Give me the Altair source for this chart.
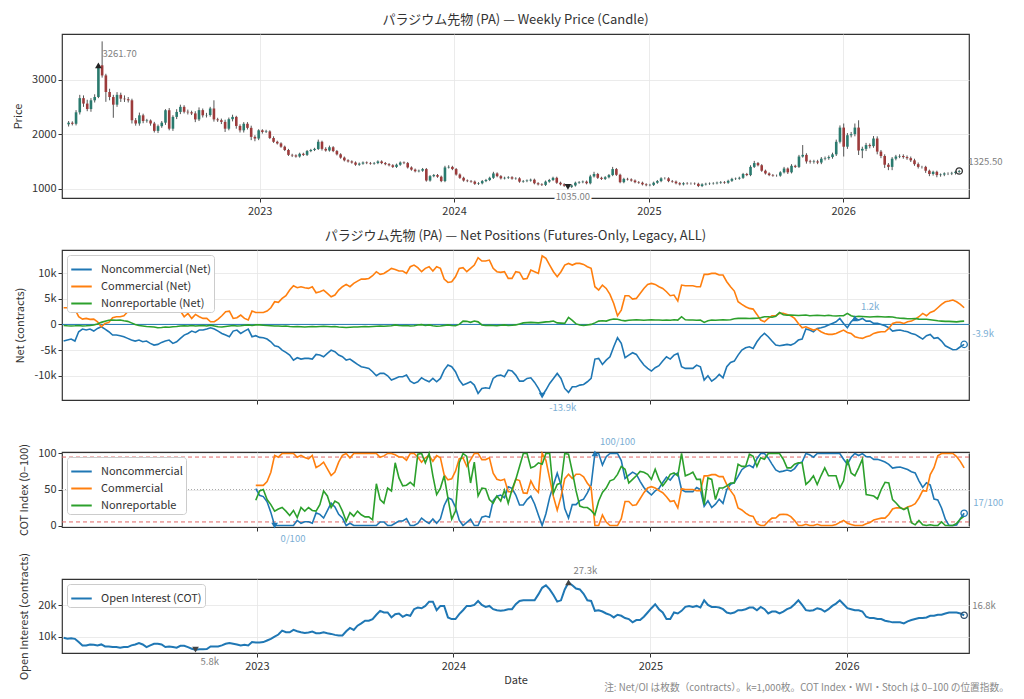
import altair as alt
import pandas as pd
import numpy as np

FONT = "Noto Sans CJK JP"
C0, C1, C2 = "#1f77b4", "#ff7f0e", "#2ca02c"
UP, DOWN = "#2a7a6e", "#9c3b3b"
LBL_BLUE = "#7aaed4"
LBL_GRAY = "#808080"

start_date = "2022-01-07"
first_open = 2180

close = [
    2210, 2190, 2400, 2660, 2560, 2460, 2620, 2680, 3261.7, 3076,
    2772, 2680, 2540, 2720, 2650, 2640, 2620, 2255, 2195, 2345,
    2240, 2250, 2195, 2060, 2146, 2210, 2438, 2100, 2316, 2407,
    2500, 2410, 2400, 2380, 2270, 2440, 2345, 2350, 2470, 2270,
    2255, 2225, 2100, 2274, 2316, 2150, 2070, 2190, 2115, 1950,
    1920, 2070, 2040, 2050, 1930, 1860, 1830, 1770, 1710, 1620,
    1610, 1590, 1640, 1620, 1690, 1710, 1730, 1860, 1730, 1700,
    1760, 1690, 1630, 1570, 1520, 1500, 1480, 1440, 1460, 1480,
    1470, 1460, 1470, 1500, 1470, 1450, 1430, 1400, 1440, 1480,
    1470, 1390, 1350, 1320, 1330, 1360, 1150, 1230, 1250, 1220,
    1140, 1390, 1400, 1360, 1260, 1200, 1150, 1140, 1130, 1090,
    1100, 1140, 1160, 1200, 1280, 1230, 1190, 1200, 1210, 1185,
    1190, 1130, 1140, 1150, 1165, 1100, 1080, 1070, 1130, 1160,
    1200, 1110, 1080, 1055, 1035, 1060, 1110, 1120, 1130, 1100,
    1225, 1270, 1200, 1180, 1210, 1250, 1360, 1255, 1120, 1180,
    1170, 1150, 1120, 1110, 1080, 1065, 1070, 1110, 1140, 1190,
    1190, 1140, 1130, 1100, 1080, 1100, 1095, 1095, 1090, 1050,
    1080, 1090, 1095, 1100, 1110, 1120, 1110, 1145, 1180, 1185,
    1200, 1270, 1250, 1400, 1470, 1430, 1330, 1280, 1250, 1240,
    1240, 1300, 1370, 1300, 1420, 1400, 1590, 1620, 1500, 1490,
    1500, 1480, 1550, 1560, 1580, 1630, 1860, 2120, 1770, 1980,
    2000, 2120, 1700, 1730, 1800, 1780, 1920, 1680, 1600, 1440,
    1400, 1550, 1590, 1600, 1580, 1560, 1520, 1450, 1400, 1400,
    1330, 1270, 1310, 1250, 1260, 1280, 1280, 1290, 1310, 1325.5,
]

hi_ext = [
    30, 25, 40, 60, 50, 70, 40, 50, 20, 438,
    30, 60, 40, 50, 40, 60, 40, 30, 40, 50,
    30, 30, 20, 30, 30, 30, 20, 40, 30, 50,
    40, 30, 40, 30, 40, 50, 30, 40, 30, 150,
    30, 30, 40, 30, 40, 20, 30, 30, 30, 40,
    30, 20, 20, 30, 20, 30, 20, 20, 20, 20,
    20, 20, 20, 20, 20, 20, 20, 40, 20, 30,
    30, 20, 20, 20, 20, 20, 20, 20, 20, 20,
    20, 20, 20, 20, 20, 20, 20, 20, 20, 20,
    20, 20, 20, 20, 20, 20, 20, 20, 20, 20,
    20, 30, 30, 20, 20, 20, 20, 20, 20, 20,
    20, 20, 20, 20, 30, 20, 20, 20, 20, 20,
    20, 20, 20, 20, 20, 20, 20, 20, 20, 20,
    20, 20, 20, 20, 20, 20, 20, 20, 20, 20,
    30, 40, 20, 20, 20, 20, 40, 20, 20, 20,
    20, 20, 20, 20, 20, 20, 20, 20, 20, 20,
    20, 20, 20, 20, 20, 20, 20, 20, 20, 20,
    20, 20, 20, 20, 20, 20, 20, 20, 20, 20,
    20, 20, 20, 30, 40, 20, 20, 20, 20, 20,
    20, 20, 30, 20, 30, 20, 30, 180, 30, 30,
    30, 30, 30, 30, 30, 30, 40, 40, 75, 40,
    40, 75, 134, 40, 40, 30, 45, 40, 30, 30,
    30, 30, 30, 30, 30, 30, 30, 30, 30, 20,
    20, 20, 20, 20, 20, 20, 20, 20, 20, 20,
]

lo_ext = [
    40, 30, 30, 40, 60, 40, 50, 40, 20, 40,
    180, 60, 240, 40, 60, 50, 40, 60, 40, 40,
    40, 30, 40, 30, 40, 30, 40, 30, 40, 40,
    40, 30, 40, 30, 50, 30, 40, 40, 30, 40,
    30, 40, 60, 30, 40, 50, 40, 40, 30, 60,
    50, 30, 30, 20, 20, 20, 20, 20, 20, 20,
    30, 20, 20, 20, 20, 20, 20, 20, 30, 20,
    20, 20, 20, 20, 20, 20, 20, 20, 20, 20,
    20, 20, 20, 20, 20, 20, 20, 20, 20, 20,
    20, 20, 20, 20, 20, 20, 20, 20, 20, 20,
    20, 20, 20, 20, 20, 20, 20, 20, 20, 20,
    20, 20, 20, 20, 20, 20, 20, 20, 20, 20,
    20, 20, 20, 20, 20, 20, 20, 20, 20, 20,
    20, 20, 20, 20, 20, 20, 20, 20, 20, 20,
    20, 20, 20, 20, 20, 20, 20, 20, 20, 20,
    20, 20, 20, 20, 20, 20, 20, 20, 20, 20,
    20, 20, 20, 20, 20, 20, 20, 20, 20, 20,
    20, 20, 20, 20, 20, 20, 20, 20, 20, 20,
    20, 20, 20, 20, 20, 20, 20, 20, 20, 20,
    20, 20, 20, 30, 20, 20, 20, 20, 40, 30,
    30, 30, 30, 30, 30, 30, 30, 30, 180, 40,
    40, 40, 82, 140, 40, 40, 30, 50, 40, 60,
    60, 60, 30, 30, 30, 30, 30, 30, 30, 30,
    40, 40, 30, 40, 30, 30, 30, 30, 30, 20,
]

nc_net = [
    -3255, -3060, -2860, -3250, -1430, -910, -1100, -900, -1300, -780,
    -455, -910, -1430, -2080, -2080, -2210, -2400, -2730, -3060, -3250,
    -3060, -3385, -3250, -3710, -4040, -3900, -3515, -3250, -3060, -3710,
    -3385, -2730, -2080, -1760, -1300, -1560, -1100, -1100, -910, -650,
    -910, -1300, -1760, -2080, -2400, -1300, -1100, -1760, -1300, -910,
    -2400, -2200, -2540, -2600, -2860, -3385, -4170, -4360, -5010, -5470,
    -5990, -6970, -6510, -6770, -6640, -6640, -6770, -5860, -5990, -6310,
    -5660, -5010, -5340, -5990, -6310, -6970, -6770, -7290, -7810, -8270,
    -8400, -8590, -9240, -10030, -9570, -9570, -10030, -10870, -10550, -10220,
    -10220, -9900, -11070, -11520, -11200, -10420, -10870, -11200, -10550, -11200,
    -10550, -8920, -7940, -8270, -9240, -10870, -11850, -11520, -11200, -11850,
    -13480, -12500, -12370, -12500, -10550, -10030, -9900, -10220, -8920, -9100,
    -9900, -11070, -11070, -10550, -10420, -11330, -12500, -13900, -12820, -11520,
    -10550, -9570, -10550, -12500, -13280, -12170, -12170, -11850, -11720, -11200,
    -10550, -6770, -6640, -7810, -6970, -6310, -4360, -2600, -3710, -6510,
    -5990, -5530, -5860, -6970, -7940, -8590, -9110, -8460, -8070, -7160,
    -6310, -6770, -5990, -5660, -8270, -8590, -8590, -8590, -7940, -8270,
    -10870, -10030, -11070, -10550, -9760, -10420, -8270, -7420, -7160, -5990,
    -5010, -4560, -4360, -4690, -3385, -2400, -1760, -2400, -3250, -4040,
    -4170, -4040, -3900, -4040, -3710, -3060, -2860, -910, -1100, -1430,
    -780, -650, -455, -130, 195, 520, 1170, 195, -650, 520,
    1200, 850, 1170, 650, 650, 195, 195, 0, -260, -650,
    -1300, -1170, -1100, -1300, -1430, -1760, -1950, -2400, -2860, -2210,
    -1950, -2730, -2600, -3250, -4170, -4560, -4950, -4900, -4360, -3900,
]

c_net = [
    3255, 3255, 3125, 2990, 1500, 1040, 1170, 980, 1040, 520,
    -455, 195, 390, 1300, 1500, 1500, 1690, 2470, 2990, 3650,
    3775, 3905, 3650, 4100, 4560, 4430, 3650, 3775, 3775, 4430,
    3450, 2600, 1500, 2150, 1170, 1950, 1500, 1170, 1170, 520,
    520, 1040, 1690, 2470, 2600, 1170, 1300, 1820, 1170, 850,
    2600, 2340, 2340, 2340, 2600, 3255, 4430, 4300, 5080, 5600,
    6700, 7550, 7160, 7360, 7160, 7030, 7360, 6180, 6380, 6700,
    6050, 5400, 5730, 6700, 7360, 7810, 7360, 8010, 8460, 8850,
    8850, 8980, 9500, 10290, 9770, 9960, 10420, 10940, 10740, 10420,
    10420, 9960, 11260, 11590, 11070, 10290, 10940, 11260, 10420, 11260,
    10940, 8850, 8200, 8330, 9310, 10940, 11070, 10290, 10940, 11590,
    13020, 12370, 12370, 12560, 10940, 10290, 10160, 10290, 8980, 8980,
    10290, 10160, 8850, 8980, 10610, 10290, 9960, 13410, 12890, 11590,
    10290, 9310, 10290, 11590, 11910, 11590, 11910, 11910, 11720, 11260,
    10940, 7360, 6700, 7680, 7030, 5860, 4100, 1690, 2800, 5600,
    5600, 4950, 5080, 6050, 7030, 7810, 8010, 7810, 7360, 7030,
    6380, 5600, 5730, 4560, 7680, 7550, 7550, 7550, 7360, 7360,
    9770, 9770, 9960, 9960, 9640, 9640, 8330, 7360, 6510, 4430,
    3905, 3450, 3125, 2990, 1950, 850, 520, 1170, 1690, 1690,
    2150, 2150, 1950, 1690, 1170, 195, -650, -455, -780, -1100,
    -910, -1430, -1760, -1950, -1950, -1760, -1430, -1100, -1560, -1760,
    -2400, -2600, -2730, -2400, -2210, -1760, -1560, -1430, -1430, -780,
    195, 390, 390, 195, 520, 650, 1040, 1500, 2150, 1690,
    2340, 2600, 3255, 3905, 4430, 4560, 4750, 4430, 3905, 3255,
]

nr_net = [
    -200, -260, -300, -260, -200, -300, -260, -200, -100, 100,
    400, 600, 800, 850, 800, 850, 700, 600, 300, 0,
    -200, -300, -400, -450, -500, -650, -600, -500, -550, -450,
    -400, -300, -250, -300, -200, -300, -250, -200, -300, -150,
    -300, -450, -500, -400, -300, -200, -300, -250, -150, -100,
    -200, -100, -100, -150, -200, -250, -300, -300, -350, -300,
    -400, -450, -400, -450, -500, -450, -400, -450, -400, -350,
    -400, -450, -400, -500, -550, -600, -550, -500, -500, -450,
    -400, -450, -400, -350, -300, -350, -300, -250, -100, -200,
    -250, -200, -300, -250, -100, -50, -200, -100, -250, -350,
    -300, -200, -100, -200, -250, 0, 650, 600, 400, 650,
    500, -100, -200, -150, -200, -250, -150, -100, -200, -150,
    -100, 100, 300, 350, 400, 350, 300, 400, 500, 550,
    650, 300, 250, 200, 1370, 800, 100, -100, -200, -100,
    0, 300, 650, 700, 650, 900, 1040, 1000, 800, 700,
    800, 850, 900, 850, 800, 850, 900, 850, 850, 800,
    850, 800, 900, 850, 1500, 900, 850, 850, 800, 850,
    390, 700, 850, 800, 850, 900, 850, 900, 1100, 1170,
    1170, 1200, 1150, 1170, 1200, 1300, 1500, 1500, 1400, 1600,
    2340, 1900, 1800, 1850, 1800, 1750, 1800, 1850, 1700, 1750,
    1800, 1750, 1700, 1800, 1700, 1650, 1700, 1690, 2150, 1700,
    1500, 1600, 1550, 1500, 1450, 1500, 1550, 1500, 1450, 1500,
    1450, 1300, 1200, 1170, 1100, 1100, 1150, 1040, 1000, 1000,
    900, 800, 700, 650, 600, 600, 550, 500, 600, 650,
]

# Nonreportable COT index, starting at week 51
nr_cot_start = 51
nr_cot = [
    35, 48, 50, 36, 29, 20, 23, 25, 20,
    14, 21, 11, 25, 20, 25, 21, 20, 29, 48,
    41, 25, 34, 31, 20, 6, 18, 13, 20, 15,
    12, 12, 8, 58, 36, 31, 52, 48, 87, 66,
    55, 56, 60, 55, 99, 100, 87, 100, 69, 43,
    52, 69, 38, 9, 20, 87, 100, 96, 59, 88,
    41, 52, 51, 36, 31, 41, 34, 49, 31, 50,
    64, 82, 100, 100, 80, 82, 87, 85, 100, 100,
    45, 57, 59, 100, 99, 75, 48, 27, 25, 25,
    21, 15, 34, 46, 52, 62, 64, 71, 82, 78,
    59, 64, 69, 75, 74, 71, 64, 78, 64, 55,
    62, 71, 73, 69, 100, 69, 71, 74, 64, 64,
    29, 66, 64, 36, 52, 52, 55, 59, 59, 85,
    82, 82, 99, 96, 82, 94, 92, 100, 100, 100,
    100, 92, 80, 80, 85, 87, 87, 57, 62, 69,
    57, 69, 80, 69, 69, 69, 52, 62, 92, 73,
    69, 80, 92, 43, 42, 41, 37, 50, 60, 59,
    36, 31, 25, 22, 25, 4, 1, 7, 1, 0,
    1, 0, 0, 5, 0, 0, 0, 3, 9, 13,
]

oi = [
    9580, 9260, 9470, 9260, 8210, 7160, 7160, 7470, 7370, 7160,
    7470, 6840, 6840, 6630, 6630, 6420, 6630, 6630, 7160, 7470,
    7890, 7470, 6630, 7160, 7680, 7680, 7470, 6630, 6840, 6630,
    6420, 7050, 7050, 6630, 6100, 5800, 5900, 5950, 6000, 6840,
    6840, 6840, 7160, 7680, 7890, 7680, 7470, 7160, 7370, 7160,
    8210, 8100, 8100, 8210, 8740, 9260, 10000, 10630, 11900, 11370,
    11370, 12110, 11680, 11370, 11160, 11260, 11580, 11050, 11050, 11370,
    11050, 10840, 10530, 10320, 10320, 11680, 12740, 12110, 13470, 14210,
    15050, 15050, 15580, 16950, 18210, 17680, 17680, 16110, 17160, 17370,
    16320, 16950, 16630, 18740, 19260, 19050, 19790, 21160, 21160, 18420,
    19790, 19790, 16110, 15580, 15580, 17160, 18420, 19790, 19790, 20110,
    21370, 20110, 19480, 19790, 18740, 18420, 18210, 18420, 18740, 18740,
    20320, 21370, 21580, 21580, 21580, 21580, 23480, 25580, 26400, 25060,
    23270, 21160, 21580, 25060, 27300, 26430, 25370, 25060, 23690, 21580,
    21370, 18210, 18420, 18000, 17370, 16950, 16110, 16950, 16630, 15900,
    15580, 14530, 15260, 15260, 16320, 17690, 19060, 20320, 18740, 17690,
    15580, 15580, 17690, 17370, 18210, 19480, 19790, 19480, 19790, 19260,
    21580, 20110, 19480, 19480, 19260, 18740, 17690, 17370, 17690, 18420,
    18420, 18740, 19260, 19260, 18420, 19480, 18740, 17370, 18000, 18000,
    17370, 18000, 18740, 19260, 20320, 21580, 20110, 18420, 18210, 18420,
    19060, 18740, 18000, 18740, 19790, 20530, 21580, 20320, 19060, 18740,
    18420, 18420, 18000, 16320, 15900, 15900, 15580, 15580, 15050, 14840,
    14530, 14530, 14530, 14210, 14840, 15260, 15580, 15900, 15900, 16110,
    16630, 16630, 16950, 16950, 17370, 17690, 17690, 17690, 17370, 16800,
]

TITLE1 = "パラジウム先物 (PA) — Weekly Price (Candle)"
TITLE2 = "パラジウム先物 (PA) — Net Positions (Futures-Only, Legacy, ALL)"
FOOT = "注: Net/OI は枚数（contracts）。k=1,000枚。COT Index・WVI・Stoch は 0–100 の位置指数。"

NET_NAMES = ["Noncommercial (Net)", "Commercial (Net)", "Nonreportable (Net)"]
COT_NAMES = ["Noncommercial", "Commercial", "Nonreportable"]
OI_NAME = "Open Interest (COT)"

# ---------------- data frames ----------------
n = min(len(close), len(hi_ext), len(lo_ext), len(nc_net), len(c_net), len(nr_net), len(oi))
dates = pd.date_range(start_date, periods=n, freq="7D")
ds = list(dates.strftime("%Y-%m-%d"))

cl = np.array(close[:n], dtype=float)
op = np.concatenate([[first_open], cl[:-1]])
hi = np.maximum(op, cl) + np.array(hi_ext[:n], dtype=float)
lo = np.minimum(op, cl) - np.array(lo_ext[:n], dtype=float)
price_df = pd.DataFrame({"date": ds, "open": op, "close": cl, "high": hi, "low": lo,
                         "dir": np.where(cl >= op, "up", "down")})

net = pd.DataFrame({"date": ds, NET_NAMES[0]: nc_net[:n], NET_NAMES[1]: c_net[:n], NET_NAMES[2]: nr_net[:n]})
net_long = net.melt("date", var_name="series", value_name="value")


def cot_index(values, window=52):
    s = pd.Series(values, dtype=float)
    mn = s.rolling(window, min_periods=window).min()
    mx = s.rolling(window, min_periods=window).max()
    return (s - mn) / (mx - mn) * 100.0


cot_nc = cot_index(nc_net[:n])
cot_c = cot_index(c_net[:n])
cot_nr = pd.Series([np.nan] * n)
for k, v in enumerate(nr_cot):
    if nr_cot_start + k < n:
        cot_nr[nr_cot_start + k] = v
cot = pd.DataFrame({"date": ds, COT_NAMES[0]: cot_nc, COT_NAMES[1]: cot_c, COT_NAMES[2]: cot_nr})
cot_long = cot.melt("date", var_name="series", value_name="value").dropna()

oi_df = pd.DataFrame({"date": ds, "value": oi[:n], "series": OI_NAME})

# ---------------- scales & encodings ----------------
x_scale = alt.Scale(type="utc", nice=False,
                    domain=[alt.DateTime(year=2022, month=1, date=4, utc=True),
                            alt.DateTime(year=2026, month=8, date=16, utc=True)])
year_vals = [alt.DateTime(year=y, month=1, date=1, utc=True) for y in (2023, 2024, 2025, 2026)]

KEXPR = "datum.value == 0 ? '0' : (datum.value < 0 ? '-' : '') + format(abs(datum.value) / 1000, 'd') + 'k'"


def X(labels=True, title=None):
    return alt.X("date:T", scale=x_scale, title=title,
                 axis=alt.Axis(values=year_vals, format="%Y", labels=labels, grid=True,
                               tickSize=4, labelPadding=3, titlePadding=3))


def make_Y(scale, values, title, kfmt=False, fmt=None):
    def Y(field):
        ax = dict(values=values, grid=True, tickSize=4, titlePadding=8)
        if kfmt:
            ax["labelExpr"] = KEXPR
        if fmt:
            ax["format"] = fmt
        return alt.Y(field, scale=scale, title=title, axis=alt.Axis(**ax))
    return Y


Y_price = make_Y(alt.Scale(domain=[830, 3835], nice=False, zero=False), [1000, 2000, 3000], "Price", fmt="d")
Y_net = make_Y(alt.Scale(domain=[-14760, 14530], nice=False, zero=False), [-10000, -5000, 0, 5000, 10000],
               "Net (contracts)", kfmt=True)
Y_cot = make_Y(alt.Scale(domain=[-2, 102], nice=False, zero=False), [0, 50, 100], "COT Index (0–100)")
Y_oi = make_Y(alt.Scale(domain=[4730, 28400], nice=False, zero=False), [10000, 20000],
              "Open Interest (contracts)", kfmt=True)


def annotate(values, fmt, Y, xl, mcolor, tcolor, lastcolor, maxpos, minpos, lastpos,
             halo_min=False, xtitle=None):
    s = pd.Series(values, dtype=float)
    imax, imin, ilast = int(s.idxmax()), int(s.idxmin()), int(s.last_valid_index())

    def one(i):
        return pd.DataFrame({"date": [ds[i]], "value": [float(s[i])], "label": [fmt(float(s[i]))]})

    enc = dict(x=X(xl, xtitle), y=Y("value:Q"))
    layers = []
    layers.append(alt.Chart(one(imax)).mark_point(shape="triangle-up", filled=True, size=45,
                                                  color=mcolor, opacity=1).encode(**enc))
    layers.append(alt.Chart(one(imin)).mark_point(shape="triangle-down", filled=True, size=45,
                                                  color=mcolor, opacity=1).encode(**enc))
    layers.append(alt.Chart(one(ilast)).mark_point(shape="circle", filled=False, size=40, strokeWidth=1.3,
                                                   color=lastcolor, opacity=1).encode(**enc))
    for i, (al, dx, dy) in ((imax, maxpos), (imin, minpos), (ilast, lastpos)):
        if halo_min and i == imin:
            layers.append(alt.Chart(one(i)).mark_text(align=al, dx=dx, dy=dy, fontSize=9.5, color="white",
                                                      stroke="white", strokeWidth=4)
                          .encode(text="label:N", **enc))
        layers.append(alt.Chart(one(i)).mark_text(align=al, dx=dx, dy=dy, fontSize=9.5, color=tcolor)
                      .encode(text="label:N", **enc))
    return layers


def legend():
    return alt.Legend(orient="top-left", title=None, fillColor="white", strokeColor="#cccccc",
                      cornerRadius=3, padding=3, symbolType="stroke", symbolStrokeWidth=2,
                      symbolSize=420, labelFontSize=11, labelColor="#333333", rowPadding=0,
                      offset=5, labelOffset=8, labelLimit=0)


# ---------------- panel 1: candles ----------------
pbase = alt.Chart(price_df)
wick = pbase.mark_rule(color="#555555", strokeWidth=1).encode(x=X(True), y=Y_price("low:Q"), y2="high:Q")
body = pbase.mark_bar(size=2.6).encode(
    x=X(True), y=Y_price("open:Q"), y2="close:Q",
    color=alt.Color("dir:N", scale=alt.Scale(domain=["up", "down"], range=[UP, DOWN]), legend=None))
p1 = alt.layer(
    wick, body,
    *annotate(cl, lambda v: f"{v:.2f}", Y_price, True, "#222222", LBL_GRAY, "#333333",
              ("left", 4, -11), ("center", 5, 10), ("left", 9, -9), halo_min=True)
).properties(width=907, height=164,
             title=alt.TitleParams(TITLE1, fontSize=13, fontWeight="normal", color="#333333",
                                   anchor="middle", offset=7))

# ---------------- panel 2: net ----------------
zero = alt.Chart(pd.DataFrame({"v": [0]})).mark_rule(color=C0, strokeWidth=1).encode(y=Y_net("v:Q"))
net_lines = alt.Chart(net_long).mark_line(strokeWidth=1.6).encode(
    x=X(False), y=Y_net("value:Q"),
    color=alt.Color("series:N", sort=NET_NAMES,
                    scale=alt.Scale(domain=NET_NAMES, range=[C0, C1, C2]), legend=legend()))
p2 = alt.layer(
    zero, net_lines,
    *annotate(nc_net[:n], lambda v: f"{v/1000:.1f}k", Y_net, False, C0, LBL_BLUE, C0,
              ("left", 6, -11), ("left", 7, 12), ("left", 8, -10))
).properties(width=907, height=150,
             title=alt.TitleParams(TITLE2, fontSize=13, fontWeight="normal", color="#333333",
                                   anchor="middle", offset=7))

# ---------------- panel 3: COT index ----------------
red_rules = alt.Chart(pd.DataFrame({"v": [95, 5]})).mark_rule(
    color="#e06666", strokeDash=[4, 3], strokeWidth=1).encode(y=Y_cot("v:Q"))
mid_rule = alt.Chart(pd.DataFrame({"v": [50]})).mark_rule(
    color="#aaaaaa", strokeDash=[1, 2], strokeWidth=1).encode(y=Y_cot("v:Q"))
cot_lines = alt.Chart(cot_long).mark_line(strokeWidth=1.6).encode(
    x=X(False), y=Y_cot("value:Q"),
    color=alt.Color("series:N", sort=COT_NAMES,
                    scale=alt.Scale(domain=COT_NAMES, range=[C0, C1, C2]), legend=legend()))
p3 = alt.layer(
    red_rules, mid_rule, cot_lines,
    *annotate(cot_nc, lambda v: f"{int(round(v))}/100", Y_cot, False, C0, LBL_BLUE, C0,
              ("left", 5, -11), ("left", 6, 13), ("left", 9, -10))
).properties(width=907, height=75)

# ---------------- panel 4: open interest ----------------
oi_line = alt.Chart(oi_df).mark_line(strokeWidth=2).encode(
    x=X(True, "Date"), y=Y_oi("value:Q"),
    color=alt.Color("series:N", scale=alt.Scale(domain=[OI_NAME], range=[C0]), legend=legend()))
p4 = alt.layer(
    oi_line,
    *annotate(oi[:n], lambda v: f"{v/1000:.1f}k", Y_oi, True, "#444444", LBL_GRAY, "#2f4f6f",
              ("left", 5, -11), ("left", 5, 12), ("left", 8, -9), xtitle="Date")
).properties(width=907, height=74)

chart = alt.vconcat(
    p1, p2, p3, p4, spacing=52, bounds="flush",
    title=alt.TitleParams(FOOT, orient="bottom", anchor="end", fontSize=9.7, fontWeight="normal",
                          color="#888888", offset=0, dy=-3, dx=5)
).resolve_scale(color="independent", y="independent").resolve_legend(color="independent")

chart = chart.properties(padding={"left": 3, "top": 5, "right": 2, "bottom": 5}).configure_view(
    stroke="#333333", strokeWidth=1.2
).configure_axis(
    labelFont=FONT, titleFont=FONT, labelFontSize=11, titleFontSize=11, titleFontWeight="normal",
    labelColor="#333333", titleColor="#333333", tickColor="#333333", gridColor="#e6e6e6",
    gridWidth=0.8, domain=False
).configure_legend(labelFont=FONT).configure_title(font=FONT).configure_text(font=FONT)

chart.save("out.html", embed_options={"renderer": "svg", "actions": False})
